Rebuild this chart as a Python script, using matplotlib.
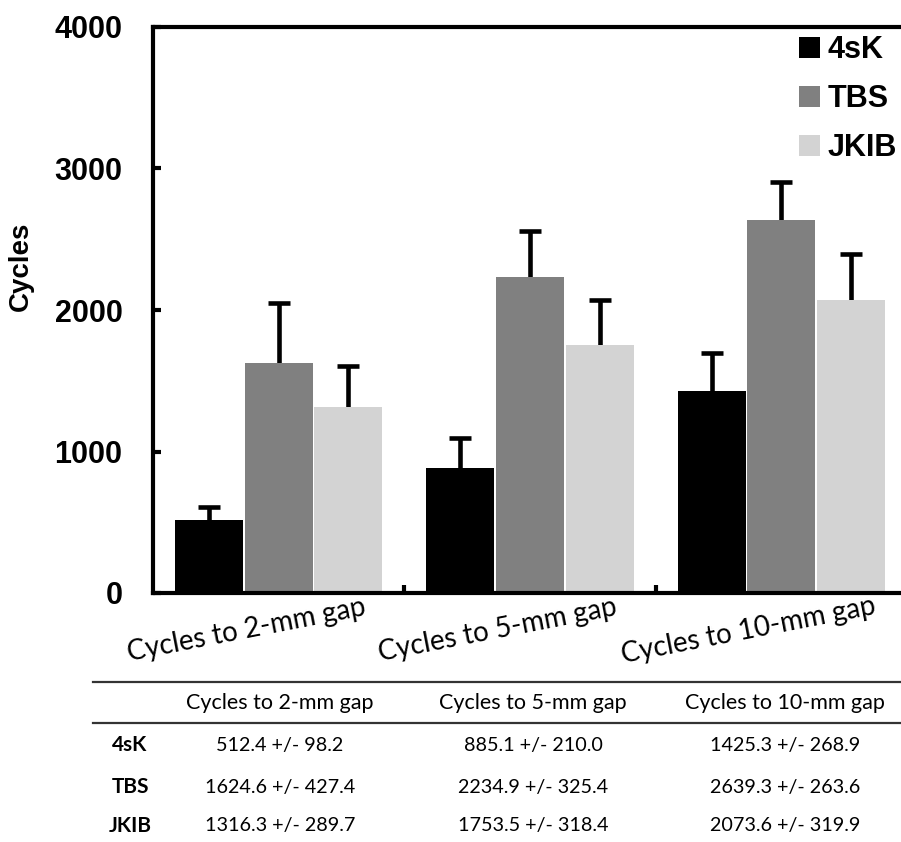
import numpy as np
import matplotlib
matplotlib.use('Agg')
from matplotlib import pyplot as plt
from matplotlib.lines import Line2D

# data
categories = ['Cycles to 2-mm gap', 'Cycles to 5-mm gap', 'Cycles to 10-mm gap']
series = ['4sK', 'TBS', 'JKIB']
means_4sk = [512.4, 885.1, 1425.3]
means_tbs = [1624.6, 2234.9, 2639.3]
means_jkib = [1316.3, 1753.5, 2073.6]
sd_4sk = [98.2, 210.0, 268.9]
sd_tbs = [427.4, 325.4, 263.6]
sd_jkib = [289.7, 318.4, 319.9]
y_ticks = [0, 1000, 2000, 3000, 4000]

colors = ['#000000', '#808080', '#d3d3d3']
means = [means_4sk, means_tbs, means_jkib]
sds = [sd_4sk, sd_tbs, sd_jkib]

fig = plt.figure(figsize=(9.01, 8.42), dpi=100)
ax = fig.add_axes([153 / 901, 1 - 593 / 842, 754 / 901, 566 / 842])

x = np.arange(len(categories))
w = 0.277
for k in range(3):
    pos = x + (k - 1) * w
    ax.bar(pos, means[k], width=w - 0.006, color=colors[k], label=series[k], zorder=2)
    # symmetric bars drawn behind, so only the upper half shows
    ax.errorbar(pos, means[k], yerr=sds[k], fmt='none', ecolor='black',
                elinewidth=3.3, capsize=8, capthick=3.3, zorder=1)

ax.set_xlim(-0.5, 2.5)
ax.set_ylim(0, 4000)
ax.set_yticks(y_ticks)
ax.set_yticklabels([str(v) for v in y_ticks], fontsize=22, fontweight='bold',
                   family='Liberation Sans')
ax.set_xticks([0.5, 1.5])
ax.set_xticklabels([])
ax.tick_params(axis='both', direction='in', length=6, width=3)
ax.tick_params(axis='y', pad=22)
ax.set_ylabel('Cycles', fontsize=20, fontweight='bold', family='Liberation Sans')
ax.yaxis.set_label_coords(-0.158, 0.578)
for s in ['left', 'bottom', 'top', 'right']:
    ax.spines[s].set_linewidth(3)

for i, c in enumerate(categories):
    ax.text(i - 0.13, -0.066, c, transform=ax.get_xaxis_transform(), rotation=11,
            ha='center', va='center', fontsize=20, family='Lato', rotation_mode='anchor')

fig.legend(loc='upper left', bbox_to_anchor=(799 / 901, 1 - 35 / 842), frameon=False,
           prop={'family': 'Liberation Sans', 'weight': 'bold', 'size': 22},
           handlelength=0.68, handleheight=0.68, handletextpad=0.25, labelspacing=0.62,
           borderaxespad=0, borderpad=0)

# table below the chart
fig.add_artist(Line2D([93 / 901, 1], [1 - 682 / 842] * 2, color='#333333', lw=1.6))
fig.add_artist(Line2D([93 / 901, 1], [1 - 723 / 842] * 2, color='#333333', lw=1.6))
col_x = [280, 533, 785]
row_y = [745, 787, 826]
for j, c in enumerate(categories):
    fig.text(col_x[j] / 901, 1 - 703 / 842, c, ha='center', va='center', fontsize=15.5,
             family='Lato')
for i, s in enumerate(series):
    fig.text(130 / 901, 1 - row_y[i] / 842, s, ha='center', va='center', fontsize=15,
             family='Lato', fontweight='bold')
    for j in range(3):
        fig.text(col_x[j] / 901, 1 - row_y[i] / 842, '%.1f +/- %.1f' % (means[i][j], sds[i][j]),
                 ha='center', va='center', fontsize=14.2, family='Lato')

fig.savefig('out.png', dpi=100)
